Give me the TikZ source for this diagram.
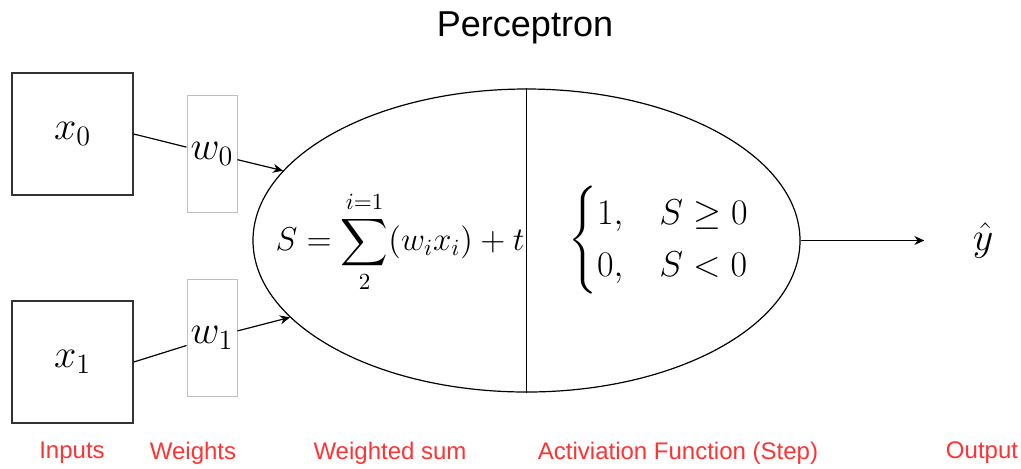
\documentclass[tikz,border=0pt]{standalone}
\usepackage{fix-cm}
\usepackage{amsmath}
\usepackage{amssymb}
\usepackage{fontspec}
\setsansfont{Liberation Sans}
\usepackage{tikz}
\usetikzlibrary{arrows.meta}
\usetikzlibrary{shapes.geometric}
\definecolor{lblred}{HTML}{FF3333}
\tikzset{
  inbox/.style={draw=black!80, line width=.75pt, minimum width=60.5pt, minimum height=61pt, inner sep=0, font=\fontsize{20}{24}\selectfont},
  wbox/.style={draw=black!25, line width=.5pt, minimum width=25pt, minimum height=58.5pt, inner sep=0, font=\fontsize{20}{24}\selectfont},
  mathtxt/.style={inner sep=0, font=\fontsize{16.5}{20}\selectfont},
  lbl/.style={text=lblred, inner sep=0, font=\sffamily\fontsize{12}{14}\selectfont},
}

\begin{document}
\begin{tikzpicture}[x=.5pt, y=-.5pt, >={Stealth[length=5pt,width=4.5pt]}]
\useasboundingbox (0,0) rectangle (1021,468);
% inputs and weights
\node[inbox] (x0) at (72.5,134) {$x_0$};
\node[inbox] (x1) at (72.5,362) {$x_1$};
\node[wbox] (w0) at (212,153.5) {$w_0$};
\node[wbox] (w1) at (212,337.5) {$w_1$};
% the neuron
\node[draw, ellipse, line width=.6pt, inner sep=0, minimum width=273.5pt, minimum height=151.5pt] (perc) at (526.5,240.5) {};
\draw[line width=.6pt] (perc.north) -- (perc.south);
\node[mathtxt] (wsum) at (400,242) {$\displaystyle S=\sum_{2}^{i=1}(w_ix_i)+t$};
\node[font=\fontsize{18}{22}\selectfont, inner sep=0] (act) at (659,240) {\renewcommand{\arraystretch}{0.9}$\begin{cases}1, & S\geq 0\\ 0, & S<0\end{cases}$};
\node[inner sep=0, font=\fontsize{20}{24}\selectfont] (yhat) at (983,240.5) {$\hat{y}$};
% connectors
\draw[line width=.6pt] (x0.east) -- (w0);
\draw[line width=.6pt, ->] (w0) -- (perc.164);
\draw[line width=.6pt] (x1.east) -- (w1);
\draw[line width=.6pt, ->] (w1) -- (perc.198);
\draw[line width=.6pt, ->] (perc.east) -- ([xshift=-24pt]perc.east -| yhat.west);
% title and labels
\node[inner sep=0, font=\sffamily\fontsize{18}{22}\selectfont] (title) at (525,28) {Perceptron};
\node[lbl] (lin) at (72,453) {Inputs};
\node[lbl] (lw) at (193,453) {Weights};
\node[lbl] (lsum) at (390,453) {Weighted sum};
\node[lbl] (lact) at (678,453) {Activiation Function (Step)};
\node[lbl] (lout) at (982,453) {Output};
\end{tikzpicture}
\end{document}
